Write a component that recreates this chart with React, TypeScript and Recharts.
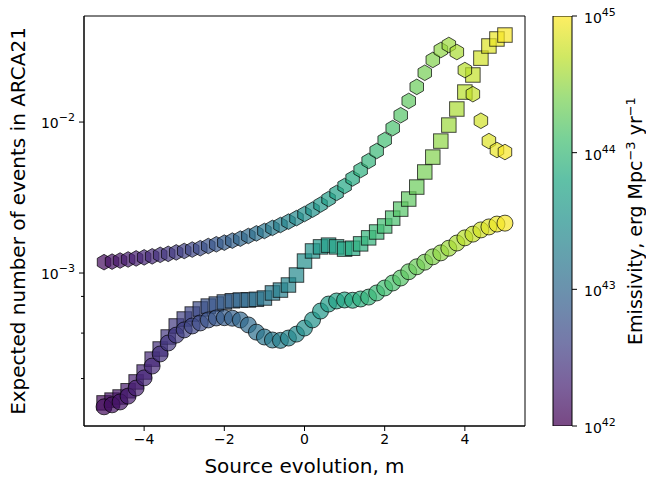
import { ScatterChart, BarChart, Bar, Scatter, XAxis, YAxis, ReferenceArea } from "recharts";

// source evolution parameter m (x axis)
const mValues = [
  -5, -4.8, -4.6, -4.4, -4.2, -4, -3.8, -3.6, -3.4, -3.2,
  -3, -2.8, -2.6, -2.4, -2.2, -2, -1.8, -1.6, -1.4, -1.2,
  -1, -0.8, -0.6, -0.4, -0.2, 0, 0.2, 0.4, 0.6, 0.8,
  1, 1.2, 1.4, 1.6, 1.8, 2, 2.2, 2.4, 2.6, 2.8,
  3, 3.2, 3.4, 3.6, 3.8, 4, 4.2, 4.4, 4.6, 4.8, 5,
];

// expected number of events, hexagon series
const hexEvents = [
  1.18e-3, 1.19e-3, 1.21e-3, 1.23e-3, 1.25e-3, 1.27e-3, 1.29e-3, 1.32e-3, 1.34e-3, 1.37e-3,
  1.4e-3, 1.43e-3, 1.46e-3, 1.51e-3, 1.55e-3, 1.59e-3, 1.64e-3, 1.69e-3, 1.76e-3, 1.83e-3,
  1.9e-3, 1.99e-3, 2.08e-3, 2.19e-3, 2.31e-3, 2.46e-3, 2.63e-3, 2.84e-3, 3.09e-3, 3.39e-3,
  3.77e-3, 4.23e-3, 4.81e-3, 5.52e-3, 6.43e-3, 7.6e-3, 9.12e-3, 1.11e-2, 1.38e-2, 1.71e-2,
  2.12e-2, 2.58e-2, 3.0e-2, 3.24e-2, 2.91e-2, 2.21e-2, 1.53e-2, 1.02e-2, 7.48e-3, 6.53e-3, 6.33e-3,
];

// square series
const squareEvents = [
  1.38e-4, 1.44e-4, 1.51e-4, 1.66e-4, 1.9e-4, 2.21e-4, 2.69e-4, 3.14e-4, 3.77e-4, 4.46e-4,
  4.96e-4, 5.35e-4, 5.78e-4, 6.04e-4, 6.23e-4, 6.43e-4, 6.55e-4, 6.63e-4, 6.63e-4, 6.7e-4,
  6.83e-4, 7.38e-4, 7.71e-4, 8.33e-4, 9.7e-4, 1.2e-3, 1.4e-3, 1.49e-3, 1.53e-3, 1.49e-3,
  1.44e-3, 1.46e-3, 1.56e-3, 1.71e-3, 1.87e-3, 2.05e-3, 2.31e-3, 2.65e-3, 3.09e-3, 3.71e-3,
  4.67e-3, 5.86e-3, 7.48e-3, 9.55e-3, 1.22e-2, 1.58e-2, 2.05e-2, 2.65e-2, 3.19e-2, 3.55e-2, 3.77e-2,
];

// circle series
const circleEvents = [
  1.3e-4, 1.34e-4, 1.4e-4, 1.53e-4, 1.73e-4, 2.02e-4, 2.42e-4, 2.91e-4, 3.44e-4, 3.88e-4,
  4.2e-4, 4.46e-4, 4.67e-4, 4.89e-4, 5.04e-4, 5.06e-4, 5.02e-4, 4.89e-4, 4.53e-4, 4.06e-4,
  3.77e-4, 3.6e-4, 3.58e-4, 3.71e-4, 3.94e-4, 4.32e-4, 4.89e-4, 5.6e-4, 6.23e-4, 6.53e-4,
  6.63e-4, 6.6e-4, 6.73e-4, 6.93e-4, 7.38e-4, 7.96e-4, 8.59e-4, 9.27e-4, 1.02e-3, 1.1e-3,
  1.18e-3, 1.28e-3, 1.36e-3, 1.46e-3, 1.58e-3, 1.71e-3, 1.81e-3, 1.93e-3, 2.02e-3, 2.11e-3, 2.14e-3,
];

// log10 of emissivity (erg Mpc^-3 yr^-1)
const logEmissivity = [
  42.09, 42.15, 42.18, 42.24, 42.27, 42.33, 42.36, 42.42, 42.48, 42.51,
  42.57, 42.63, 42.69, 42.75, 42.81, 42.87, 42.93, 42.99, 43.05, 43.11,
  43.17, 43.23, 43.29, 43.35, 43.41, 43.47, 43.53, 43.59, 43.65, 43.71,
  43.77, 43.83, 43.89, 43.95, 44.01, 44.07, 44.13, 44.19, 44.25, 44.31,
  44.37, 44.43, 44.49, 44.55, 44.61, 44.67, 44.73, 44.79, 44.85, 44.91, 44.97,
];

const xTicks = [-4, -2, 0, 2, 4];
const yMajorTicks = [1e-3, 1e-2];
const yMinorTicks = [
  2e-4, 3e-4, 4e-4, 5e-4, 6e-4, 7e-4, 8e-4, 9e-4,
  2e-3, 3e-3, 4e-3, 5e-3, 6e-3, 7e-3, 8e-3, 9e-3,
  2e-2, 3e-2, 4e-2, 5e-2,
];
const cbMajorTicks = [1e42, 1e43, 1e44, 1e45];
const cbMinorTicks = [
  2e42, 3e42, 4e42, 5e42, 6e42, 7e42, 8e42, 9e42,
  2e43, 3e43, 4e43, 5e43, 6e43, 7e43, 8e43, 9e43,
  2e44, 3e44, 4e44, 5e44, 6e44, 7e44, 8e44, 9e44,
];
// colour bar: one range bar over the emissivity span
const cbRange = [1e42, 1e45];
const cbBar = [{ name: "emissivity", range: cbRange }];

const X_DOMAIN = [-5.5, 5.5];
const Y_DOMAIN = [9.7e-5, 0.0504];
const PLOT_LEFT = 84;
const CB_RIGHT = 32;
const FONT = "DejaVu Sans, sans-serif";

const viridisStops = [
  "#440154", "#482475", "#414487", "#355f8d", "#2a788e", "#21918c",
  "#22a884", "#44bf70", "#7ad151", "#bddf26", "#fde725",
];

function viridis(t: number) {
  const c = Math.min(1, Math.max(0, t)) * (viridisStops.length - 1);
  const i = Math.min(viridisStops.length - 2, Math.floor(c));
  const f = c - i;
  const a = viridisStops[i], b = viridisStops[i + 1];
  const ch = (s: string, k: number) => parseInt(s.slice(1 + 2 * k, 3 + 2 * k), 16);
  const mix = [0, 1, 2].map((k) => Math.round(ch(a, k) + (ch(b, k) - ch(a, k)) * f));
  return `rgb(${mix[0]},${mix[1]},${mix[2]})`;
}
const colorFor = (e: number) => viridis((e - 42) / 3);

const makeRows = (vals: number[]) =>
  mValues.map((m, i) => ({ m, n: vals[i], e: logEmissivity[i] }));
const hexData = makeRows(hexEvents);
const squareData = makeRows(squareEvents);
const circleData = makeRows(circleEvents);

const markerStyle = { fillOpacity: 0.7, stroke: "#000", strokeOpacity: 0.7, strokeWidth: 1 };

const HexMarker = (props: any) => {
  const { cx, cy } = props;
  const e = (props.payload ?? props).e;
  const r = 7.8;
  const pts = [0, 1, 2, 3, 4, 5]
    .map((k) => {
      const a = Math.PI / 2 + (k * Math.PI) / 3;
      return `${cx + r * Math.cos(a)},${cy - r * Math.sin(a)}`;
    })
    .join(" ");
  return <polygon points={pts} fill={colorFor(e)} {...markerStyle} />;
};

const SquareMarker = (props: any) => {
  const { cx, cy } = props;
  const e = (props.payload ?? props).e;
  const s = 14.5;
  return <rect x={cx - s / 2} y={cy - s / 2} width={s} height={s} fill={colorFor(e)} {...markerStyle} />;
};

const CircleMarker = (props: any) => {
  const { cx, cy } = props;
  const e = (props.payload ?? props).e;
  return <circle cx={cx} cy={cy} r={8} fill={colorFor(e)} {...markerStyle} />;
};

const ColorBarShape = (props: any) => {
  const { x, y, width, height } = props;
  return (
    <g>
      <defs>
        <linearGradient id="viridisBar" x1="0" y1="1" x2="0" y2="0">
          {viridisStops.map((c, i) => (
            <stop key={c} offset={`${(i / (viridisStops.length - 1)) * 100}%`} stopColor={c} stopOpacity={0.72} />
          ))}
        </linearGradient>
      </defs>
      <rect x={x} y={y} width={width} height={height} fill="url(#viridisBar)" stroke="#000" strokeWidth={1} />
    </g>
  );
};

const XTick = (props: any) => {
  const { x, y, payload } = props;
  const v = payload.value;
  return (
    <text x={x} y={y + 11} textAnchor="middle" fontSize={14} fontFamily={FONT} fill="#000">
      {v < 0 ? `\u2212${Math.abs(v)}` : `${v}`}
    </text>
  );
};

const YTick = (props: any) => {
  const { y, payload } = props;
  const v = payload.value;
  const major = yMajorTicks.some((t) => Math.abs(t - v) / t < 1e-6);
  const len = major ? 5 : 3;
  return (
    <g>
      <line x1={PLOT_LEFT - len} x2={PLOT_LEFT} y1={y} y2={y} stroke="#000" strokeWidth={1} />
      {major && (
        <text x={PLOT_LEFT - 9} y={y + 6} textAnchor="end" fontSize={14} fontFamily={FONT} fill="#000">
          10
          <tspan dy={-7} fontSize={11}>{`\u2212${Math.round(-Math.log10(v))}`}</tspan>
        </text>
      )}
    </g>
  );
};

const CbTick = (props: any) => {
  const { y, payload } = props;
  const v = payload.value;
  const major = cbMajorTicks.some((t) => Math.abs(t - v) / t < 1e-6);
  const len = major ? 5 : 3;
  return (
    <g>
      <line x1={CB_RIGHT} x2={CB_RIGHT + len} y1={y} y2={y} stroke="#000" strokeWidth={1} />
      {major && (
        <text x={CB_RIGHT + 12} y={y + 7} textAnchor="start" fontSize={14} fontFamily={FONT} fill="#000">
          10
          <tspan dy={-7} fontSize={11}>{`${Math.round(Math.log10(v))}`}</tspan>
        </text>
      )}
    </g>
  );
};

export default function App() {
  return (
    <div style={{ position: "absolute", left: 0, top: 0, width: 646, height: 481, background: "#fff" }}>
      <div style={{ position: "absolute", left: 0, top: 0 }}>
        <ScatterChart width={540} height={481} margin={{ top: 16, right: 15, bottom: 0, left: 0 }}>
          <XAxis
            type="number"
            dataKey="m"
            domain={X_DOMAIN}
            ticks={xTicks}
            allowDataOverflow
            height={55}
            tickSize={5}
            tickLine={{ stroke: "#000" }}
            axisLine={{ stroke: "#000" }}
            tick={<XTick />}
            label={{
              content: (p: any) => {
                const vb = p.viewBox;
                return (
                  <text x={vb.x + vb.width / 2} y={vb.y + 47} textAnchor="middle" fontSize={20} fontFamily={FONT} fill="#000">
                    Source evolution, m
                  </text>
                );
              },
            }}
          />
          <YAxis
            type="number"
            dataKey="n"
            scale="log"
            domain={Y_DOMAIN}
            allowDataOverflow
            ticks={[...yMinorTicks, ...yMajorTicks]}
            width={PLOT_LEFT}
            tickLine={false}
            axisLine={{ stroke: "#000" }}
            tick={<YTick />}
            label={{
              content: (p: any) => {
                const vb = p.viewBox;
                const cx = vb.x + 25;
                const cy = vb.y + vb.height / 2;
                return (
                  <text x={cx} y={cy} transform={`rotate(-90 ${cx} ${cy})`} textAnchor="middle" fontSize={20} fontFamily={FONT} fill="#000">
                    Expected number of events in ARCA21
                  </text>
                );
              },
            }}
          />
          <Scatter data={squareData} shape={SquareMarker} isAnimationActive={false} />
          <Scatter data={circleData} shape={CircleMarker} isAnimationActive={false} />
          <Scatter data={hexData} shape={HexMarker} isAnimationActive={false} />
          <ReferenceArea
            x1={X_DOMAIN[0]}
            x2={X_DOMAIN[1]}
            y1={Y_DOMAIN[0]}
            y2={Y_DOMAIN[1]}
            fill="none"
            fillOpacity={0}
            stroke="#000"
            strokeWidth={1}
            ifOverflow="visible"
          />
        </ScatterChart>
      </div>
      <div style={{ position: "absolute", left: 540, top: 0 }}>
        <BarChart
          width={106}
          height={481}
          data={cbBar}
          barCategoryGap={0}
          margin={{ top: 16, right: 0, bottom: 55, left: 13 }}
        >
          <XAxis dataKey="name" hide />
          <YAxis
            orientation="right"
            type="number"
            scale="log"
            domain={cbRange}
            allowDataOverflow
            ticks={[...cbMinorTicks, ...cbMajorTicks]}
            width={74}
            tickLine={false}
            axisLine={false}
            tick={<CbTick />}
            label={{
              content: (p: any) => {
                const vb = p.viewBox;
                const cx = vb.x + 70;
                const cy = vb.y + vb.height / 2;
                return (
                  <text x={cx} y={cy} transform={`rotate(-90 ${cx} ${cy})`} textAnchor="middle" fontSize={19} fontFamily={FONT} fill="#000">
                    Emissivity, erg Mpc
                    <tspan dy={-7} fontSize={13}>{"\u22123"}</tspan>
                    <tspan dy={7}> yr</tspan>
                    <tspan dy={-7} fontSize={13}>{"\u22121"}</tspan>
                  </text>
                );
              },
            }}
          />
          <Bar dataKey="range" shape={ColorBarShape} isAnimationActive={false} />
        </BarChart>
      </div>
    </div>
  );
}
